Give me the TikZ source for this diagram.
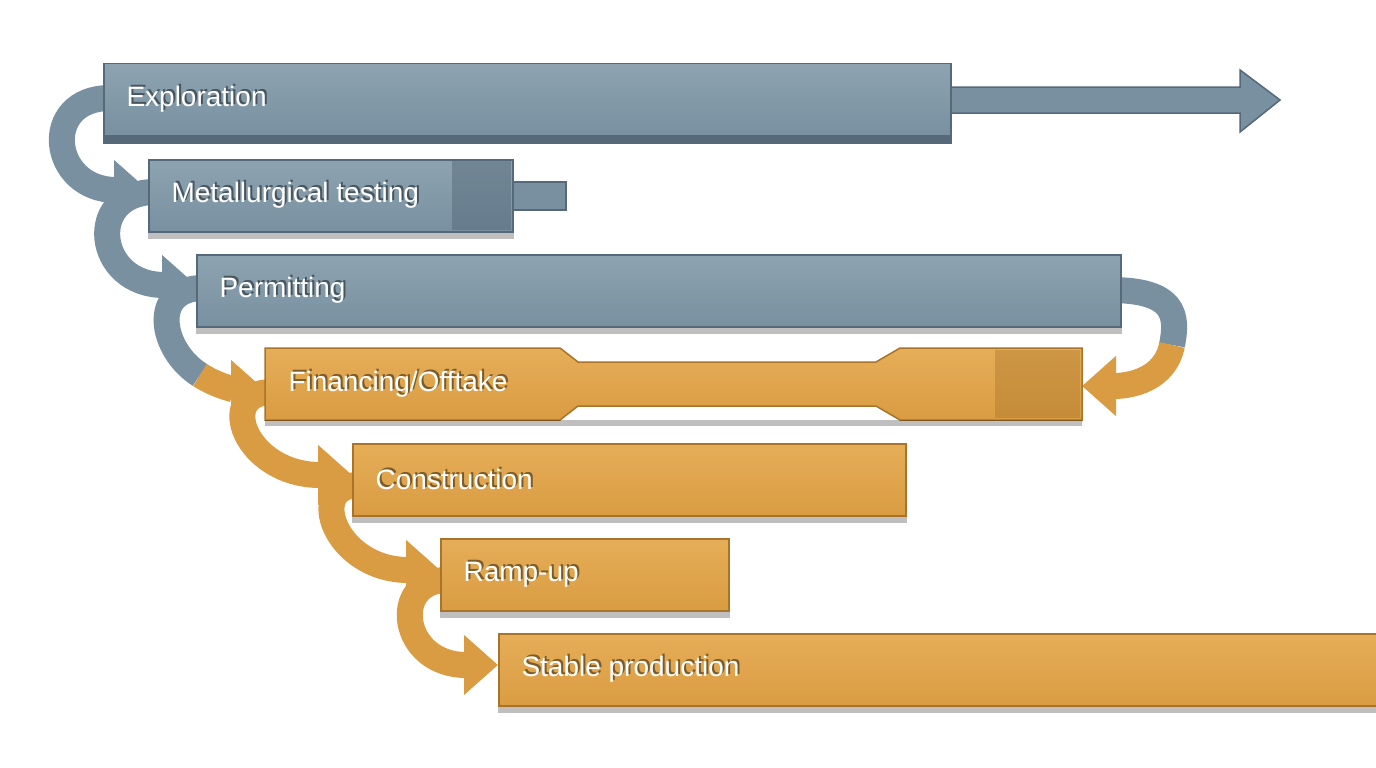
\documentclass[tikz,border=0pt]{standalone}
\usepackage{fontspec}
\setmainfont{Liberation Sans}
\usetikzlibrary{arrows.meta,calc}
\definecolor{bl}{HTML}{7890A0}
\definecolor{blt}{HTML}{8DA3B1}
\definecolor{bld}{HTML}{56697A}
\definecolor{or}{HTML}{D99C42}
\definecolor{ort}{HTML}{E6AE58}
\definecolor{ord}{HTML}{A9742A}
\begin{document}
\begin{tikzpicture}[x=1pt,y=-1pt,
  barB/.style={draw=bld,line width=1.5,top color=blt,bottom color=bl,anchor=north west,minimum height=72,inner sep=0},
  barO/.style={draw=ord,line width=1.5,top color=ort,bottom color=or,anchor=north west,minimum height=72,inner sep=0},
  lbl/.style={anchor=west,text=white,font=\fontsize{28}{30}\selectfont},
  arrB/.style={line width=26,draw=bl,-{Triangle[length=34,width=58]}},
  arrO/.style={line width=26,draw=or,-{Triangle[length=34,width=58]}}]
\useasboundingbox (0,0) rectangle (1376,768);
\fill[white] (0,0) rectangle (1376,768);
\fill[bl,draw=bld,line width=1.5] (945,87) -- (1240,87) -- (1240,70) -- (1280,100) -- (1240,132) -- (1240,113) -- (945,113) -- cycle;
% curved arrows (behind bars)
\coordinate (s1) at (103,98);
\draw[arrB] (110,98) .. controls (40,98) and (50,190) .. (148,190);
\draw[arrB] (155,192) .. controls (85,192) and (95,285) .. (196,285);
\draw[line width=26,bl] (203,288) .. controls (150,288) and (160,350) .. (200,375);
\draw[arrO] (200,375) .. controls (220,388) and (240,390) .. (265,390);
\draw[arrO] (272,392) .. controls (215,392) and (245,475) .. (352,475);
\draw[arrO] (359,485) .. controls (305,485) and (335,570) .. (440,570);
\draw[arrO] (447,580) .. controls (390,580) and (400,665) .. (498,665);
\draw[line width=26,bl] (1110,290) .. controls (1175,290) and (1178,315) .. (1172,345);
\draw[arrO] (1172,345) .. controls (1165,380) and (1130,386) .. (1082,386);
\node[barB,minimum width=847] (expl) at (103,63) {};
\fill[bld] (expl.south west) rectangle ([yshift=-7]expl.south east);
\fill[bl,draw=bld,line width=1.5] (505,182) rectangle (566,210);
\node[barB,minimum width=364] (met) at (148,159) {};
\fill[bld,opacity=.5] (452,160) rectangle (511,230);
\node[barB,minimum width=924] (perm) at (196,254) {};
\fill[top color=ort,bottom color=or,draw=ord,line width=1.5] (265,348) -- (560,348) -- (578,362) -- (876,362) -- (900,348) -- (1082,348) -- (1082,420) -- (900,420) -- (876,406) -- (578,406) -- (560,420) -- (265,420) -- cycle;
\node[anchor=north west,minimum width=817,minimum height=72,inner sep=0] (fin) at (265,348) {};
\fill[ord,opacity=.4] (995,350) rectangle (1080,418);
\node[barO,minimum width=553] (con) at (352,443) {};
\node[barO,minimum width=288] (ramp) at (440,538) {};
\node[barO,minimum width=880] (stab) at (498,633) {};
\foreach \n in {met,perm,fin,con,ramp,stab}{\fill[black,opacity=.25] (\n.south west) rectangle ([yshift=-6]\n.south east);}
\foreach \n/\t in {expl/{Exploration},met/{Metallurgical testing},perm/{Permitting},fin/{Financing/Offtake},con/{Construction},ramp/{Ramp-up},stab/{Stable production}}{
  \node[lbl,text=black,opacity=.45] at ([xshift=22,yshift=2]\n.west) {\t};
  \node[lbl] at ([xshift=20]\n.west) {\t};}
\end{tikzpicture}
\end{document}
